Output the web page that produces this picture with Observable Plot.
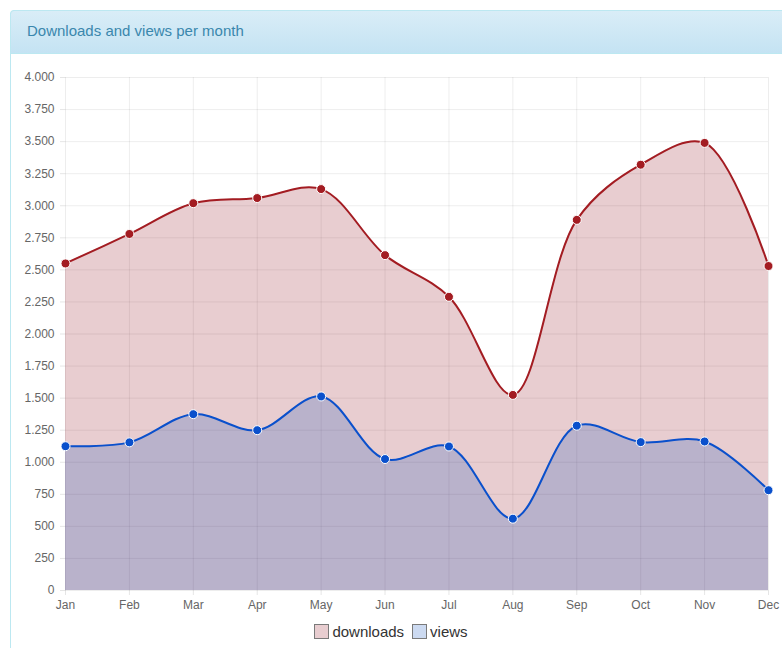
<!DOCTYPE html>
<html>
<head>
<meta charset="utf-8">
<script src="https://cdn.jsdelivr.net/npm/d3@7"></script>
<script src="https://cdn.jsdelivr.net/npm/@observablehq/plot@0.6"></script>
<style>
  html, body { margin: 0; padding: 0; background: #fff; width: 782px; height: 648px; overflow: hidden; font-family: "Liberation Sans", Arial, sans-serif; }
  #panel { position: absolute; left: 10px; top: 10px; width: 800px; height: 700px; border: 1px solid #bce8f1; border-radius: 4px; box-sizing: border-box; }
  #header { position: absolute; left: 10px; top: 10px; width: 800px; height: 44px; box-sizing: border-box; border: 1px solid #bce8f1; border-radius: 4px 0 0 0; background: linear-gradient(#d9edf7, #c4e3f3); }
  #title { position: absolute; left: 27px; top: 22px; font-size: 15px; color: #3a87ad; }
  #chart { position: absolute; left: 0; top: 60px; width: 782px; }
  #chart svg { max-width: none; }
  #legend { position: absolute; left: 0; width: 782px; top: 623px; text-align: center; font-size: 15px; color: #333; }
  .item { display: inline-flex; align-items: center; margin: 0 4px; }
  .sw { display: inline-block; width: 15px; height: 15px; box-sizing: border-box; border: 1px solid #7a7a7a; margin-right: 3px; }
</style>
</head>
<body>
<div id="panel"></div>
<div id="header"></div>
<div id="title">Downloads and views per month</div>
<div id="chart"></div>
<div id="legend"></div>
<script>
const months = ["Jan","Feb","Mar","Apr","May","Jun","Jul","Aug","Sep","Oct","Nov","Dec"];
const downloads = [2550, 2780, 3020, 3060, 3130, 2615, 2290, 1525, 2890, 3320, 3490, 2530];
const views = [1125, 1155, 1375, 1250, 1513, 1025, 1123, 560, 1285, 1157, 1162, 782];
const yTicks = d3.range(0, 4001, 250);
const seriesNames = ["downloads", "views"];
const lineColors = ["#a31c22", "#0a50cc"];
const fillColors = ["rgb(140,5,20)", "rgb(0,70,184)"];

const data = months.map((m, i) => ({i, month: m, downloads: downloads[i], views: views[i]}));
const idx = months.map((m, i) => i);
const loc = d3.formatLocale({decimal: ",", thousands: ".", grouping: [3], currency: ["", ""]});
const fmt = loc.format(",");

const chart = Plot.plot({
  width: 782,
  height: 560,
  marginLeft: 65,
  marginRight: 14,
  marginTop: 17,
  marginBottom: 30,
  style: {fontFamily: "Liberation Sans, Arial, sans-serif", fontSize: "12px", color: "#666", background: "transparent"},
  x: {type: "linear", domain: [0, months.length - 1]},
  y: {domain: [0, 4000]},
  marks: [
    Plot.gridY(yTicks, {stroke: "#000", strokeOpacity: 0.07}),
    Plot.gridX(idx, {stroke: "#000", strokeOpacity: 0.07}),
    Plot.areaY(data, {x: "i", y: "downloads", curve: "catmull-rom", fill: fillColors[0], fillOpacity: 0.2}),
    Plot.areaY(data, {x: "i", y: "views", curve: "catmull-rom", fill: fillColors[1], fillOpacity: 0.2}),
    Plot.lineY(data, {x: "i", y: "downloads", curve: "catmull-rom", stroke: lineColors[0], strokeWidth: 2}),
    Plot.lineY(data, {x: "i", y: "views", curve: "catmull-rom", stroke: lineColors[1], strokeWidth: 2}),
    Plot.dot(data, {x: "i", y: "downloads", r: 4.5, fill: lineColors[0], stroke: "#fff", strokeWidth: 1}),
    Plot.dot(data, {x: "i", y: "views", r: 4.5, fill: lineColors[1], stroke: "#fff", strokeWidth: 1}),
    Plot.axisY(yTicks, {tickSize: 5, tickPadding: 6, tickFormat: fmt, stroke: "#000", strokeOpacity: 0.1, fill: "#666", label: null}),
    Plot.axisX(idx, {tickSize: 5, tickPadding: 5, tickFormat: i => months[i], stroke: "#000", strokeOpacity: 0.1, fill: "#666", label: null})
  ]
});
document.getElementById("chart").appendChild(chart);

const legend = document.getElementById("legend");
const legendFills = ["rgba(140,5,20,0.2)", "rgba(0,70,184,0.2)"];
seriesNames.forEach((n, i) => {
  const it = document.createElement("span");
  it.className = "item";
  const sw = document.createElement("span");
  sw.className = "sw";
  sw.style.background = legendFills[i];
  it.appendChild(sw);
  it.appendChild(document.createTextNode(n));
  legend.appendChild(it);
});
</script>
</body>
</html>
